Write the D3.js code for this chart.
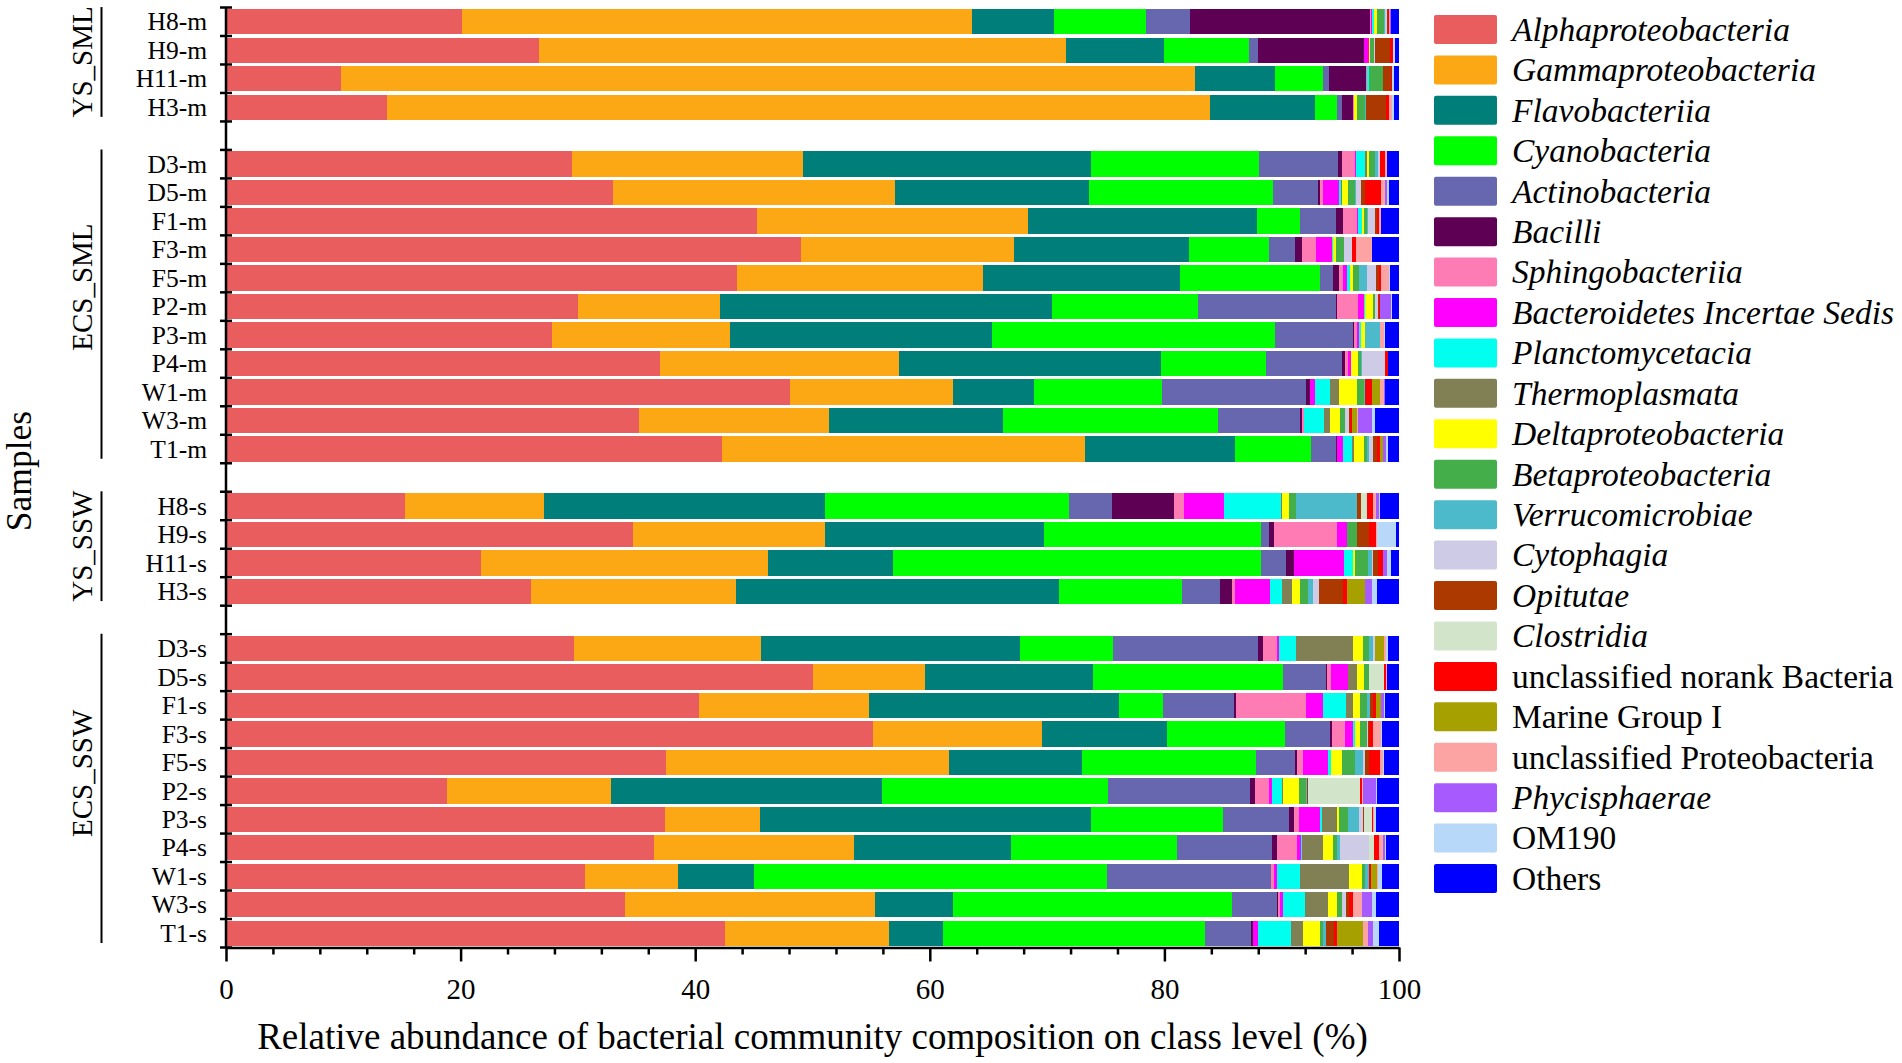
<!DOCTYPE html>
<html>
<head>
<meta charset="utf-8">
<script src="https://cdn.jsdelivr.net/npm/d3@7"></script>
<style>
  body { margin: 0; background: #fff; }
  text { font-family: "Liberation Serif", "Times New Roman", serif; fill: #000; }
</style>
</head>
<body>
<script>
// groups and their samples, top to bottom
const groupNames = ["YS_SML", "ECS_SML", "YS_SSW", "ECS_SSW"];
const ysSml = ["H8-m", "H9-m", "H11-m", "H3-m"];
const ecsSml = ["D3-m", "D5-m", "F1-m", "F3-m", "F5-m", "P2-m", "P3-m", "P4-m", "W1-m", "W3-m", "T1-m"];
const ysSsw = ["H8-s", "H9-s", "H11-s", "H3-s"];
const ecsSsw = ["D3-s", "D5-s", "F1-s", "F3-s", "F5-s", "P2-s", "P3-s", "P4-s", "W1-s", "W3-s", "T1-s"];

const classes = ["Alphaproteobacteria", "Gammaproteobacteria", "Flavobacteriia", "Cyanobacteria",
  "Actinobacteria", "Bacilli", "Sphingobacteriia", "Bacteroidetes Incertae Sedis", "Planctomycetacia",
  "Thermoplasmata", "Deltaproteobacteria", "Betaproteobacteria", "Verrucomicrobiae", "Cytophagia",
  "Opitutae", "Clostridia", "unclassified norank Bacteria", "Marine Group I",
  "unclassified Proteobacteria", "Phycisphaerae", "OM190", "Others"];
const italicNames = [true, true, true, true, true, true, true, true, true, true, true, true, true, true,
  true, true, false, false, false, true, false, false];
const colors = ["#EA5D5F", "#FCA815", "#007E7A", "#00FF00", "#6667AE", "#5E0053", "#FF7BB4", "#FF00FF",
  "#00FFEE", "#808054", "#FFFF00", "#44AF4A", "#4DBACB", "#CECBE6", "#AC3A00", "#D2E5CA", "#FF0000",
  "#A6A000", "#FCA3A3", "#A75BFF", "#B7D8F8", "#0000FF"];

// relative abundance (%), one value per sample in the order above
const alpha = [20.1, 26.7, 9.8, 13.7, 29.5, 33.0, 45.3, 49.0, 43.6, 30.0, 27.8, 37.0, 48.1, 35.2, 42.3, 15.3, 34.7, 21.7, 26.0, 29.7, 50.0, 40.3, 55.2, 37.5, 18.8, 37.4, 36.5, 30.6, 34.0, 42.5];
const gamma = [43.5, 44.9, 72.8, 70.2, 19.7, 24.0, 23.1, 18.2, 20.9, 12.1, 15.2, 20.4, 13.9, 16.2, 30.9, 11.8, 16.4, 24.5, 17.5, 15.9, 9.6, 14.5, 14.4, 24.1, 14.0, 8.1, 17.0, 7.9, 21.3, 14.0];
const flavo = [7.0, 8.4, 6.8, 8.9, 24.5, 16.6, 19.5, 14.9, 16.8, 28.3, 22.3, 22.3, 6.9, 14.8, 12.8, 24.0, 18.6, 10.7, 27.5, 22.1, 14.3, 21.3, 10.6, 11.4, 23.1, 28.2, 13.4, 6.5, 6.7, 4.6];
const cyano = [7.8, 7.2, 4.1, 1.9, 14.4, 15.7, 3.7, 6.8, 12.0, 12.5, 24.1, 9.0, 10.9, 18.4, 6.5, 20.8, 18.5, 31.3, 10.5, 7.9, 16.2, 3.8, 10.1, 14.8, 19.3, 11.3, 14.2, 30.1, 23.8, 22.4];
const actino = [3.8, 0.8, 0.5, 0.4, 6.7, 3.8, 3.0, 2.2, 1.1, 11.7, 6.7, 6.4, 12.3, 7.0, 2.1, 3.6, 0.7, 2.2, 3.2, 12.4, 3.7, 6.0, 3.8, 3.3, 12.1, 5.6, 8.1, 14.0, 3.8, 3.9];
const bacilli = [15.3, 9.0, 3.2, 1.0, 0.37, 0.14, 0.6, 0.63, 0.51, 0.09, 0.1, 0.28, 0.28, 0.14, 0.14, 5.3, 0.48, 0.63, 1.05, 0.43, 0.05, 0.2, 0.23, 0.2, 0.43, 0.43, 0.43, 0, 0.1, 0.14];
const sphingo = [0.1, 0.05, 0.03, 0.1, 1.05, 0.28, 1.19, 1.17, 0.28, 1.85, 0.2, 0.28, 0.05, 0.14, 0, 0.9, 5.3, 0, 0.28, 1.14, 0.34, 6.0, 1.05, 0.51, 1.22, 0.48, 1.7, 0.28, 0.15, 0];
const bacteroidetesIS = [0.12, 0.4, 0.03, 0, 0.14, 1.36, 0.14, 1.42, 0.34, 0.48, 0.2, 0.28, 0.43, 0, 0.51, 3.4, 0.85, 4.26, 2.98, 0.2, 1.42, 1.42, 0.71, 2.13, 0.2, 1.76, 0.34, 0.23, 0.23, 0.48];
const plancto = [0.12, 0.02, 0.14, 0, 0.71, 0.2, 0.28, 0.03, 0.28, 0.09, 0.15, 0, 1.22, 1.7, 0.77, 4.8, 0, 0.8, 1.05, 1.42, 0, 1.99, 0.14, 0.28, 0.85, 0.17, 0.06, 1.99, 1.9, 2.76];
const thermo = [0.05, 0, 0, 0, 0.2, 0.09, 0, 0, 0, 0, 0, 0, 0.77, 0.57, 0.17, 0.14, 0, 0, 0.8, 4.86, 0.8, 0.57, 0, 0, 0.09, 1.25, 1.79, 4.12, 1.93, 1.02];
const delta = [0.2, 0.05, 0, 0.24, 0.17, 0.48, 0.2, 0.28, 0.28, 0.65, 0.34, 0.57, 1.56, 0.85, 0.85, 0.57, 0, 0.14, 0.71, 0.91, 0.57, 0.63, 0.43, 0.94, 1.42, 0.23, 0.85, 1.14, 0.77, 1.48];
const beta = [0.65, 0.35, 1.2, 0.65, 0.48, 0.63, 0.28, 0.68, 0.51, 0.2, 0.05, 0.28, 0.57, 0.43, 0.23, 0.57, 0.85, 1.14, 0.63, 0.51, 0.43, 0.57, 0.57, 1.05, 0.57, 0.77, 0.34, 0.23, 0.45, 0.23];
const verruco = [0.1, 0.03, 0, 0.1, 0.28, 0.08, 0.09, 0, 0.63, 0, 1.28, 0.06, 0.14, 0, 0.17, 5.2, 0.06, 0.37, 0.45, 0.28, 0, 0.23, 0, 0.71, 0.06, 0.94, 0.28, 0.34, 0, 0.28];
const cyto = [0.1, 0.03, 0, 0, 0.2, 0.43, 0.57, 0.68, 0.85, 0.23, 0, 1.93, 0, 0.28, 0.37, 0.06, 0, 0.06, 0.54, 0.2, 0, 0.06, 0.14, 0.14, 0, 0.28, 2.42, 0, 0.34, 0];
const opitutae = [0.15, 1.3, 0.7, 1.7, 0, 0.28, 0.2, 0, 0.25, 0.14, 0, 0, 0, 0.09, 0.28, 0.28, 1.02, 0.43, 2.02, 0, 0, 0.23, 0.06, 0.37, 0.14, 0.14, 0.06, 0, 0.28, 0.68];
const clostridia = [0, 0.04, 0, 0, 0, 0, 0, 0, 0, 0, 0, 0, 0, 0, 0, 0.51, 0, 0, 0, 0, 1.28, 0, 0, 0, 4.4, 0.63, 0.43, 0, 0, 0];
const unclNorank = [0.08, 0.2, 0.1, 0.23, 0.37, 1.42, 0.17, 0.37, 0.14, 0.06, 0, 0.28, 0.57, 0.2, 0.28, 0.57, 0.57, 0.37, 0.34, 0, 0.23, 0.2, 0.37, 0.91, 0.14, 0.14, 0.37, 0.2, 0.34, 0.28];
const marineGroupI = [0, 0, 0, 0, 0, 0, 0, 0, 0, 0, 0, 0, 0.71, 0.43, 0.28, 0, 0, 0, 1.56, 0.74, 0, 0.43, 0, 0, 0, 0, 0, 0.51, 0, 2.16];
const unclProteo = [0.1, 0.03, 0, 0.28, 0.23, 0.28, 0.17, 1.34, 0.65, 0, 0.28, 0, 0.28, 0.06, 0, 0.2, 0.06, 0, 0, 0.2, 0.08, 0.06, 0.68, 0.28, 0.09, 0.09, 0.37, 0.1, 0.74, 0.48];
const phycis = [0.03, 0.03, 0, 0, 0, 0.23, 0, 0, 0, 0.91, 0, 0, 0.1, 1.22, 0.28, 0.28, 0, 0.34, 0.57, 0, 0, 0.23, 0, 0, 1.14, 0, 0.2, 0, 0.91, 0.37];
const om190 = [0.05, 0.14, 0.2, 0.14, 0, 0.14, 0, 0, 0.1, 0.08, 0.14, 0, 0, 0.28, 0.09, 0.14, 1.65, 0.34, 0.48, 0.2, 0, 0.06, 0.08, 0.14, 0.06, 0.14, 0.08, 0.33, 0.34, 0.57];
const others = [0.65, 0.33, 0.4, 0.46, 1.0, 0.86, 1.51, 2.3, 0.78, 0.62, 1.16, 0.94, 1.22, 2.01, 0.98, 1.58, 0.26, 0.72, 1.84, 0.91, 1.0, 1.22, 1.44, 1.24, 1.89, 1.95, 1.08, 1.43, 1.92, 1.67];

const xTicks = [0, 20, 40, 60, 80, 100];

const seriesValues = [alpha, gamma, flavo, cyano, actino, bacilli, sphingo, bacteroidetesIS, plancto,
  thermo, delta, beta, verruco, cyto, opitutae, clostridia, unclNorank, marineGroupI, unclProteo,
  phycis, om190, others];
const groupMembers = [ysSml, ecsSml, ysSsw, ecsSsw];
const samples = groupMembers.flat();

const width = 1902, height = 1063;
const svg = d3.select("body").append("svg")
  .attr("width", width)
  .attr("height", height);

// one empty slot between groups
const yDomain = groupMembers.flatMap((g, i) => i ? ["gap" + i, ...g] : g);

const x = d3.scaleLinear().domain([0, 100]).range([226, 1399]);
const y = d3.scaleBand().domain(yDomain).range([7.5, 947.5])
  .paddingInner(0.11).paddingOuter(0.055);

const rows = samples.map((s, i) => {
  const r = { sample: s };
  classes.forEach((c, k) => { r[c] = seriesValues[k][i]; });
  return r;
});
const stacked = d3.stack().keys(classes)(rows);

svg.append("g")
  .selectAll("g")
  .data(stacked)
  .join("g")
  .attr("fill", (d, i) => colors[i])
  .selectAll("rect")
  .data(d => d)
  .join("rect")
  .attr("x", d => x(d[0]))
  .attr("y", d => y(d.data.sample))
  .attr("width", d => Math.max(0, x(d[1]) - x(d[0])))
  .attr("height", y.bandwidth())
  .attr("shape-rendering", "crispEdges");

// y axis: labels at bands, ticks at band boundaries
const yAxis = svg.append("g")
  .attr("transform", `translate(${x(0)},0)`)
  .call(d3.axisLeft(y).tickValues(samples).tickSize(0).tickPadding(19));
yAxis.select(".domain").remove();
yAxis.selectAll("text")
  .attr("font-size", 25.5)
  .attr("font-family", "Liberation Serif")
  .attr("dy", "0.34em");

const [y0, y1] = y.range();
svg.append("line")
  .attr("x1", x(0)).attr("x2", x(0))
  .attr("y1", y0).attr("y2", y1)
  .attr("stroke", "#000").attr("stroke-width", 2.5);
svg.append("g")
  .selectAll("line")
  .data(d3.range(yDomain.length + 1))
  .join("line")
  .attr("x1", x(0) - 6).attr("x2", x(0) + 6)
  .attr("y1", i => y0 + i * y.step())
  .attr("y2", i => y0 + i * y.step())
  .attr("stroke", "#000").attr("stroke-width", 2.5);

// x axis
const xAxis = svg.append("g")
  .attr("transform", `translate(0,${y1})`)
  .call(d3.axisBottom(x).tickValues(xTicks).tickSize(14).tickSizeOuter(0));
xAxis.select(".domain").attr("stroke-width", 2.5);
xAxis.selectAll(".tick line").attr("stroke-width", 2.5);
xAxis.selectAll("text")
  .attr("font-size", 29)
  .attr("font-family", "Liberation Serif")
  .attr("y", 51).attr("dy", 0);

const minor = svg.append("g")
  .attr("transform", `translate(0,${y1})`)
  .call(d3.axisBottom(x).tickValues(d3.range(0, 101, 4).filter(v => v % 20)).tickSize(7).tickFormat(""));
minor.select(".domain").remove();
minor.selectAll(".tick line").attr("stroke-width", 2.5);

// group brackets; the ECS labels sit a little above the bracket centre
const labelShift = [0, -17, 0, -15];
groupMembers.forEach((g, i) => {
  const top = y(g[0]) - 2;
  const bottom = y(g[g.length - 1]) + y.bandwidth() - 3;
  svg.append("line")
    .attr("x1", 101.5).attr("x2", 101.5)
    .attr("y1", top).attr("y2", bottom)
    .attr("stroke", "#000").attr("stroke-width", 2);
  svg.append("text")
    .attr("transform", `translate(92,${(top + bottom) / 2 + labelShift[i]}) rotate(-90)`)
    .attr("text-anchor", "middle")
    .attr("font-size", 29)
    .text(groupNames[i]);
});

// axis titles
svg.append("text")
  .attr("transform", `translate(31,471) rotate(-90)`)
  .attr("text-anchor", "middle")
  .attr("font-size", 35.5)
  .text("Samples");
svg.append("text")
  .attr("x", (x(0) + x(100)) / 2)
  .attr("y", 1049)
  .attr("text-anchor", "middle")
  .attr("font-size", 37)
  .text("Relative abundance of bacterial community composition on class level (%)");

// legend
const legend = svg.append("g")
  .selectAll("g")
  .data(classes)
  .join("g")
  .attr("transform", (d, i) => `translate(1434,${29.5 + i * 40.43})`);
legend.append("rect")
  .attr("x", 0).attr("y", -14.5)
  .attr("width", 63).attr("height", 29)
  .attr("rx", 2)
  .attr("fill", (d, i) => colors[i]);
legend.append("text")
  .attr("x", 78).attr("dy", "0.34em")
  .attr("font-size", 33.5)
  .attr("font-style", (d, i) => italicNames[i] ? "italic" : "normal")
  .text(d => d);
</script>
</body>
</html>
